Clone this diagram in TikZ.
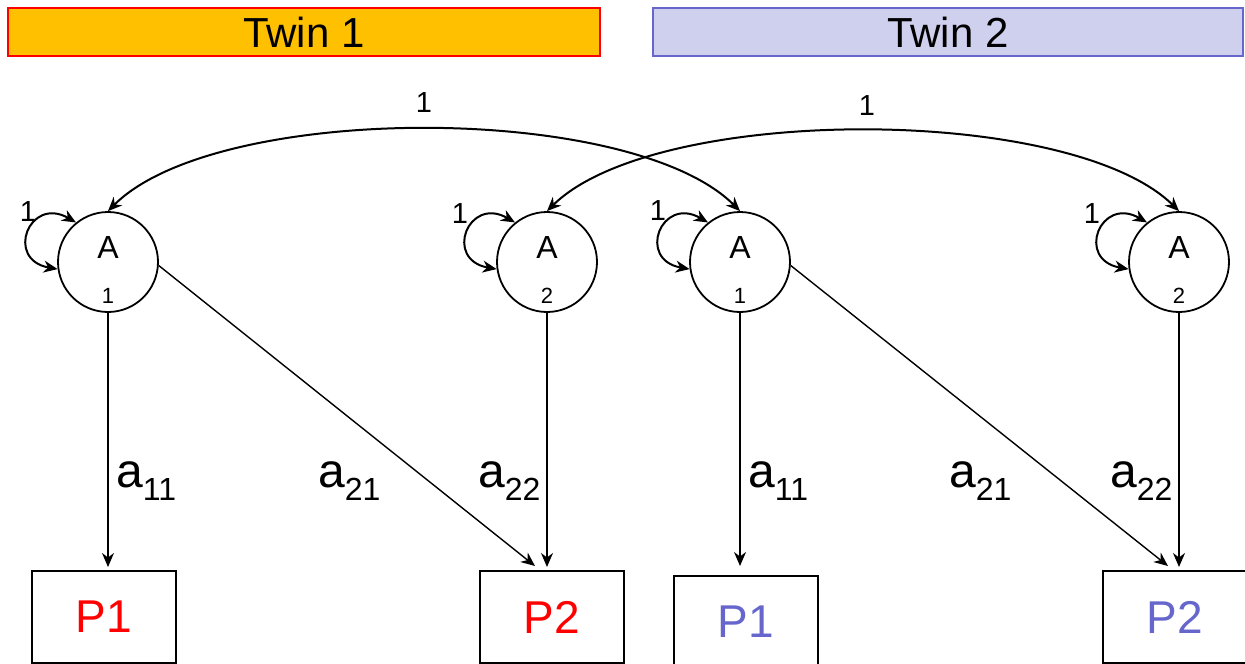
\documentclass[tikz,border=0pt]{standalone}
\usepackage{fontspec}
\setmainfont{Liberation Sans}
\usetikzlibrary{arrows.meta}
\definecolor{twinorange}{HTML}{FFC000}
\definecolor{twinred}{HTML}{FF0000}
\definecolor{twinlav}{HTML}{CFCFEE}
\definecolor{twinblue}{HTML}{6666CC}
\newcommand{\pathlab}[2]{{\fontsize{48}{48}\selectfont #1}{\fontsize{32}{32}\selectfont\raisebox{-13pt}{#2}}}
\begin{document}
\begin{tikzpicture}[x=1pt,y=1pt,
  header/.style={line width=2pt, minimum height=48pt, inner sep=0pt, font=\fontsize{42}{42}\selectfont},
  latent/.style={circle, draw, line width=1.8pt, minimum size=100pt, inner sep=0pt},
  obs/.style={rectangle, draw, line width=2pt, minimum width=144pt, minimum height=92pt, inner sep=0pt, font=\fontsize{46}{46}\selectfont},
  bigA/.style={inner sep=0pt, font=\fontsize{32}{32}\selectfont},
  subA/.style={inner sep=0pt, font=\fontsize{22}{22}\selectfont},
  one/.style={inner sep=0pt, font=\fontsize{29}{29}\selectfont},
  pathlbl/.style={inner sep=0pt, anchor=base west},
  tip/.style={line width=1.4pt, -{Stealth[length=14pt,width=12pt,inset=4.5pt]}},
  dtip/.style={line width=2pt, {Stealth[length=14pt,width=12pt,inset=4.5pt]}-{Stealth[length=14pt,width=12pt,inset=4.5pt]}}
]
\useasboundingbox (0,0) rectangle (1245,-664);

% headers
\node[header, draw=twinred, fill=twinorange, minimum width=592pt] (T1) at (304,-32) {Twin 1};
\node[header, draw=twinblue, fill=twinlav, minimum width=590pt] (T2) at (948,-32) {Twin 2};

% latent circles
\node[latent] (A1a) at (108,-262) {};
\node[latent] (A2a) at (547,-262) {};
\node[latent] (A1b) at (740,-262) {};
\node[latent] (A2b) at (1179,-262) {};
\node[bigA] (A1aT) at (108,-247) {A};
\node[bigA] (A2aT) at (547,-247) {A};
\node[bigA] (A1bT) at (740,-247) {A};
\node[bigA] (A2bT) at (1179,-247) {A};
\node[subA] (A1aS) at (108,-296) {1};
\node[subA] (A2aS) at (547,-296) {2};
\node[subA] (A1bS) at (740,-296) {1};
\node[subA] (A2bS) at (1179,-296) {2};

% observed boxes
\node[obs, text=twinred] (P1a) at (104,-617) {P1};
\node[obs, text=twinred] (P2a) at (552,-617) {P2};
\node[obs, text=twinblue] (P1b) at (746,-622) {P1};
\node[obs, text=twinblue] (P2b) at (1175,-617) {P2};

% arrow ends
\coordinate (e11a) at (108,-567);
\coordinate (e21a) at (535,-566);
\coordinate (e22a) at (547,-567);
\coordinate (e11b) at (740,-566);
\coordinate (e21b) at (1168,-566);
\coordinate (e22b) at (1179,-567);

\draw[tip] (A1a) -- (e11a);
\draw[tip] (A1a.-4) -- (e21a);
\draw[tip] (A2a) -- (e22a);
\draw[tip] (A1b) -- (e11b);
\draw[tip] (A1b.-4) -- (e21b);
\draw[tip] (A2b) -- (e22b);

% covariance arcs
\draw[dtip] (A1a.north) .. controls +(109,109) and +(-109,109) .. (A1b.north);
\draw[dtip] (A2a.north) .. controls +(109,107) and +(-109,107) .. (A2b.north);
\node[one] (c1) at (424,-103) {1};
\node[one] (c2) at (867,-106) {1};

% self loops
\foreach \n in {A1a,A2a,A1b,A2b}{
  \draw[dtip] (\n.129) .. controls +(150:54) and +(170:54) .. (\n.188);
}
\node[one] (v1a) at (28,-212) {1};
\node[one] (v2a) at (460,-214) {1};
\node[one] (v1b) at (658,-211) {1};
\node[one] (v2b) at (1092,-214) {1};

% path labels
\node[pathlbl] (l11a) at (116,-487) {\pathlab{a}{11}};
\node[pathlbl] (l21a) at (318,-487) {\pathlab{a}{21}};
\node[pathlbl] (l22a) at (478,-487) {\pathlab{a}{22}};
\node[pathlbl] (l11b) at (748,-487) {\pathlab{a}{11}};
\node[pathlbl] (l21b) at (949,-487) {\pathlab{a}{21}};
\node[pathlbl] (l22b) at (1110,-487) {\pathlab{a}{22}};
\end{tikzpicture}
\end{document}
